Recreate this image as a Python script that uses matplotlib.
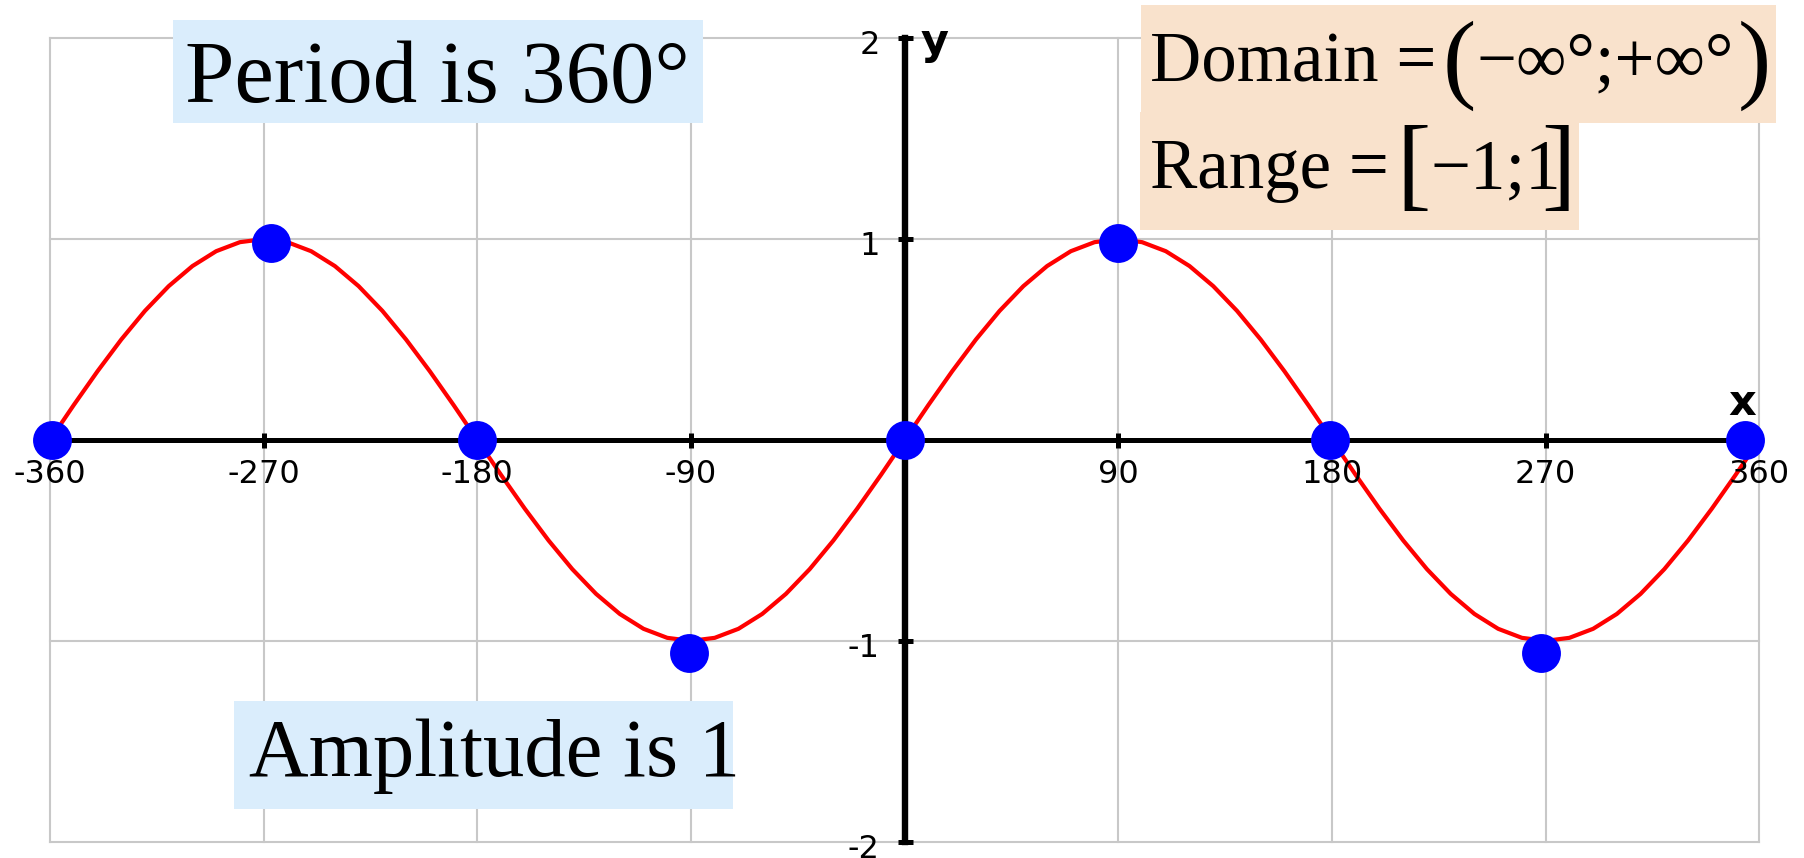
# y = sin x 图像（-360° 到 360°）
import matplotlib.pyplot as plt
from matplotlib.patches import Rectangle

plt.rcParams['axes.unicode_minus'] = False

# 数据
x_ticks = [-360, -270, -180, -90, 90, 180, 270, 360]
y_ticks = [-2, -1, 1, 2]

# 红色曲线，每 10° 读一个点（一个周期 36 个点，重复两次）
curve_x = list(range(-360, 361, 10))
curve_y = [0, 0.174, 0.342, 0.5, 0.643, 0.766, 0.866, 0.94, 0.985,
           1, 0.985, 0.94, 0.866, 0.766, 0.643, 0.5, 0.342, 0.174,
           0, -0.174, -0.342, -0.5, -0.643, -0.766, -0.866, -0.94, -0.985,
           -1, -0.985, -0.94, -0.866, -0.766, -0.643, -0.5, -0.342, -0.174,
           0, 0.174, 0.342, 0.5, 0.643, 0.766, 0.866, 0.94, 0.985,
           1, 0.985, 0.94, 0.866, 0.766, 0.643, 0.5, 0.342, 0.174,
           0, -0.174, -0.342, -0.5, -0.643, -0.766, -0.866, -0.94, -0.985,
           -1, -0.985, -0.94, -0.866, -0.766, -0.643, -0.5, -0.342, -0.174,
           0]

# 蓝色点
dot_x = [-359, -267, -180, -91, 0, 90, 179, 268, 354]
dot_y = [0, 0.98, 0, -1.06, 0, 0.98, 0, -1.06, 0]

W, H = 1804, 858
fig = plt.figure(figsize=(W / 100, H / 100), dpi=100)


def fx(px):
    return px / W


def fy(py):
    return 1 - py / H


ax = fig.add_axes([fx(50), fy(841.7), (1759.3 - 50) / W, (841.7 - 38.3) / H])
ax.set_xlim(-360, 360)
ax.set_ylim(-2, 2)

# 坐标轴放在原点
ax.spines['left'].set_position(('data', 0))
ax.spines['bottom'].set_position(('data', 0))
ax.spines['top'].set_visible(False)
ax.spines['right'].set_visible(False)
ax.spines['left'].set_linewidth(4.6)
ax.spines['bottom'].set_linewidth(3.6)

ax.set_xticks(x_ticks)
ax.set_yticks(y_ticks)
ax.tick_params(direction='inout', length=10.8, width=3.6, color='black',
               labelbottom=False, labelleft=False)

# 网格
ax.set_axisbelow(True)
ax.grid(True, color='#c8c8c8', linewidth=1.5)
for gl in ax.get_xgridlines() + ax.get_ygridlines():
    gl.set_clip_on(False)

# 刻度标签
for v in x_ticks:
    ax.annotate(str(v), xy=(v, 0), xytext=(0, -43), textcoords='offset pixels',
                ha='center', va='baseline', fontsize=23, family='DejaVu Sans')
for v in y_ticks:
    ax.annotate(str(v), xy=(0, v), xytext=(-25, -16), textcoords='offset pixels',
                ha='right', va='baseline', fontsize=23, family='DejaVu Sans')

ax.annotate('y', xy=(0, 2), xytext=(16, -15.5), textcoords='offset pixels',
            ha='left', va='baseline', fontsize=31, fontweight='bold', family='DejaVu Sans')
ax.annotate('x', xy=(360, 0), xytext=(-17, 25), textcoords='offset pixels',
            ha='center', va='baseline', fontsize=31, fontweight='bold', family='DejaVu Sans')

# 曲线和点
ax.plot(curve_x, curve_y, color='#ff0000', linewidth=3.0, solid_joinstyle='round', zorder=2)
ax.plot(dot_x, dot_y, 'o', markersize=28, color='#0000ff', markeredgewidth=0,
        clip_on=False, zorder=5)

# 文字框
blue_box = '#daedfc'
peach_box = '#f9e2cc'


def box(x0, y0, x1, y1, color):
    fig.patches.append(Rectangle((fx(x0), fy(y1)), (x1 - x0) / W, (y1 - y0) / H,
                                 transform=fig.transFigure, facecolor=color,
                                 edgecolor='none', zorder=1))


serif = ['Liberation Serif', 'DejaVu Serif']

box(172.8, 20, 703.2, 122.7, blue_box)
fig.text(fx(185), fy(101.7), 'Period is 360°', fontsize=64, family=serif,
         ha='left', va='baseline')

box(234, 701, 733, 809, blue_box)
fig.text(fx(249), fy(776), 'Amplitude is 1', fontsize=59.5, family=serif,
         ha='left', va='baseline')

box(1140.7, 5, 1776, 122.7, peach_box)
box(1139.5, 111.7, 1579, 230, peach_box)

fig.text(fx(1150), fy(81.7), 'Domain =', fontsize=51, family=serif, va='baseline')
fig.text(fx(1443), fy(89.3), '(', fontsize=72, family=serif, va='baseline')
fig.text(fx(1476), fy(81.7), '\u2212\u221e°;+\u221e°', fontsize=51, family=serif, va='baseline')
fig.text(fx(1738), fy(89.3), ')', fontsize=72, family=serif, va='baseline')

fig.text(fx(1150), fy(188), 'Range =', fontsize=51, family=serif, va='baseline')
fig.text(fx(1396), fy(197), '[', fontsize=74, family=serif, va='baseline')
fig.text(fx(1430), fy(188), '\u22121;1', fontsize=51, family=serif, va='baseline')
fig.text(fx(1541), fy(197), ']', fontsize=74, family=serif, va='baseline')

plt.savefig('out.png', dpi=100)
